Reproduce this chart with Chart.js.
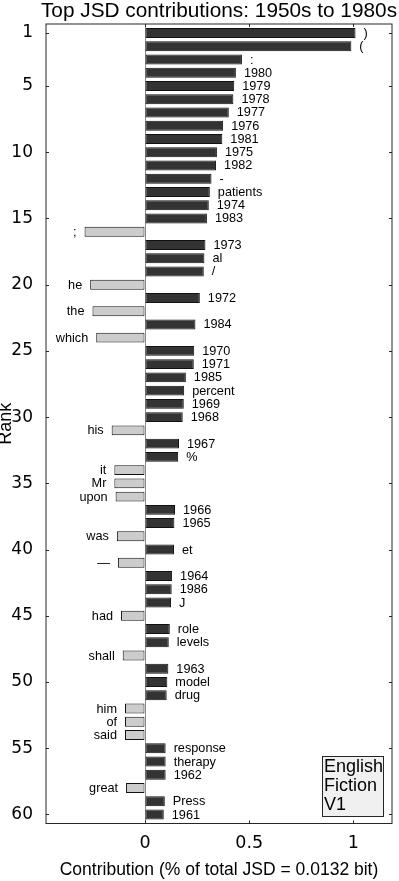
<!DOCTYPE html>
<html><head><meta charset="utf-8">
<script src="https://cdn.jsdelivr.net/npm/chart.js@4.4.0/dist/chart.umd.min.js"></script>
<style>html,body{margin:0;padding:0;background:#fff;}canvas{display:block;}</style>
</head><body>
<canvas id="c" width="399" height="881"></canvas>
<script>
const titleText = "Top JSD contributions: 1950s to 1980s";
const xAxisTitle = "Contribution (% of total JSD = 0.0132 bit)";
const yAxisTitle = "Rank";
const legendLines = ["English", "Fiction", "V1"];

const ranks = [1,2,3,4,5,6,7,8,9,10,11,12,13,14,15,16,17,18,19,20,21,22,23,24,25,26,27,28,29,30,
  31,32,33,34,35,36,37,38,39,40,41,42,43,44,45,46,47,48,49,50,51,52,53,54,55,56,57,58,59,60];
const words = [")","(",":","1980","1979","1978","1977","1976","1981","1975",
  "1982","-","patients","1974","1983",";","1973","al","/","he",
  "1972","the","1984","which","1970","1971","1985","percent","1969","1968",
  "his","1967","%","it","Mr","upon","1966","1965","was","et",
  "\u2014","1964","1986","J","had","role","levels","shall","1963","model",
  "drug","him","of","said","response","therapy","1962","great","Press","1961"];
const values = [1.01,0.99,0.465,0.436,0.428,0.424,0.402,0.375,0.371,0.345,
  0.341,0.319,0.311,0.306,0.297,-0.29,0.29,0.285,0.282,-0.263,
  0.263,-0.252,0.242,-0.234,0.236,0.234,0.196,0.188,0.186,0.181,
  -0.16,0.163,0.159,-0.147,-0.147,-0.141,0.144,0.141,-0.135,0.139,
  -0.13,0.13,0.128,0.125,-0.115,0.119,0.114,-0.107,0.112,0.107,
  0.104,-0.096,-0.096,-0.096,0.099,0.099,0.099,-0.091,0.095,0.09];
const yTicks = [1,5,10,15,20,25,30,35,40,45,50,55,60];
const xTicks = [0, 0.5, 1];
const xTickLabels = ["0", "0.5", "1"];

const AX = '#262626';
const SANS = '"Liberation Sans", Arial, Helvetica, sans-serif';
const TICKFONT = '"DejaVu Sans", sans-serif';

const decor = {
  id: 'decor',
  afterDatasetsDraw(chart) {
    const ctx = chart.ctx;
    const meta = chart.getDatasetMeta(0);
    ctx.save();
    ctx.font = '12.7px ' + SANS;
    ctx.fillStyle = '#000';
    ctx.textBaseline = 'middle';
    meta.data.forEach((bar, i) => {
      const v = values[i];
      if (v >= 0) { ctx.textAlign = 'left'; ctx.fillText(words[i], bar.x + 8, bar.y + 0.5); }
      else { ctx.textAlign = 'right'; ctx.fillText(words[i], bar.x - 8, bar.y + 0.5); }
    });
    ctx.restore();
  },
  afterDraw(chart) {
    const ctx = chart.ctx;
    const a = chart.chartArea;
    const xs = chart.scales.x, ys = chart.scales.y;
    ctx.save();
    ctx.strokeStyle = AX;
    ctx.lineWidth = 1;
    ctx.strokeRect(a.left, a.top, a.right - a.left, a.bottom - a.top);
    ctx.beginPath();
    yTicks.forEach(t => {
      const y = Math.round(ys.getPixelForValue(t)) + 0.5;
      ctx.moveTo(a.left, y); ctx.lineTo(a.left + 3, y);
      ctx.moveTo(a.right, y); ctx.lineTo(a.right - 3, y);
    });
    xTicks.forEach(t => {
      const x = Math.round(xs.getPixelForValue(t)) + 0.5;
      ctx.moveTo(x, a.top); ctx.lineTo(x, a.top + 3);
      ctx.moveTo(x, a.bottom); ctx.lineTo(x, a.bottom - 3);
    });
    ctx.stroke();
    // title
    ctx.fillStyle = '#000';
    ctx.font = '20.8px ' + SANS;
    ctx.textAlign = 'center';
    ctx.textBaseline = 'alphabetic';
    ctx.fillText(titleText, (a.left + a.right) / 2, 17);
    // legend box
    ctx.fillStyle = '#f0f0f0';
    ctx.fillRect(322, 756, 61, 60);
    ctx.strokeStyle = AX;
    ctx.strokeRect(322.5, 756.5, 61, 60);
    ctx.fillStyle = '#000';
    ctx.font = '18px ' + SANS;
    ctx.textAlign = 'left';
    legendLines.forEach((s, i) => ctx.fillText(s, 324, 772 + i * 19));
    ctx.restore();
  }
};

new Chart(document.getElementById('c'), {
  type: 'bar',
  data: {
    datasets: [{
      data: values.map((v, i) => ({ x: v, y: ranks[i] })),
      backgroundColor: ctx => (values[ctx.dataIndex] >= 0 ? '#333333' : '#cccccc'),
      borderColor: '#111111',
      borderWidth: 1,
      borderSkipped: false,
      barPercentage: 0.75,
      categoryPercentage: 1
    }]
  },
  options: {
    indexAxis: 'y',
    responsive: false,
    animation: false,
    devicePixelRatio: 1,
    layout: { padding: { top: 24, right: 7, left: 0, bottom: 0 } },
    plugins: { legend: { display: false }, tooltip: { enabled: false }, title: { display: false } },
    scales: {
      y: {
        type: 'linear', reverse: true, min: 0.32, max: 60.68, offset: false,
        afterBuildTicks: s => { s.ticks = yTicks.map(v => ({ value: v })); },
        afterFit: s => { s.width = 46; },
        grid: { display: false, offset: false },
        border: { display: false },
        ticks: { font: { family: TICKFONT, size: 17 }, color: '#000', padding: 5, autoSkip: false },
        title: { display: true, text: yAxisTitle, font: { family: SANS, size: 18, lineHeight: 0.7 }, color: '#000', padding: 0 }
      },
      x: {
        type: 'linear', min: -0.475, max: 1.185,
        afterBuildTicks: s => { s.ticks = xTicks.map(v => ({ value: v })); },
        afterFit: s => { s.height = 57.5; },
        grid: { display: true, drawTicks: false, color: c => (c.tick && c.tick.value === 0 ? '#8c8c8c' : 'rgba(0,0,0,0)'), lineWidth: 1 },
        border: { display: false },
        ticks: { font: { family: TICKFONT, size: 17.5 }, color: '#000', padding: 9, maxRotation: 0, autoSkip: false,
          callback: (v, i) => xTickLabels[i] },
        title: { display: true, text: xAxisTitle, font: { family: SANS, size: 17.5 }, color: '#000', padding: { top: 0, bottom: 0 } }
      }
    }
  },
  plugins: [decor]
});
</script>
</body></html>
